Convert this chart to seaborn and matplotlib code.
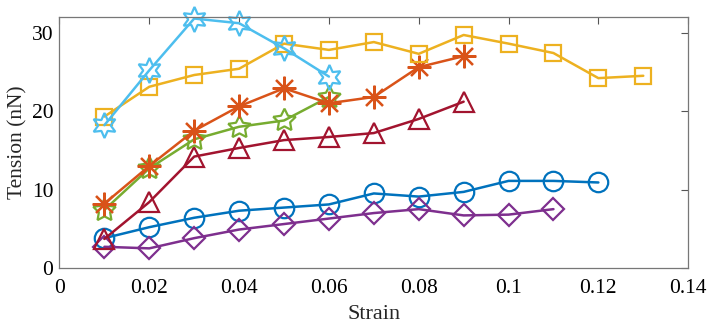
import matplotlib
matplotlib.use("Agg")
import matplotlib.pyplot as plt
import seaborn as sns
import pandas as pd

sns.set_style("white")
plt.rcParams['font.family'] = ['Liberation Serif', 'DejaVu Serif']
plt.rcParams['mathtext.fontset'] = 'stix'

strain = [0.01, 0.02, 0.03, 0.04, 0.05, 0.06, 0.07, 0.08, 0.09, 0.10, 0.11, 0.12, 0.13]

blue_circle = [3.8, 5.2, 6.4, 7.3, 7.7, 8.1, 9.5, 9.1, 9.7, 11.1, 11.1, 10.9]
orange_asterisk = [8.2, 13.0, 17.5, 20.6, 22.9, 21.0, 21.8, 25.6, 27.0]
yellow_square = [19.3, 23.1, 24.6, 25.4, 28.6, 27.8, 28.8, 27.3, 29.7, 28.6, 27.4, 24.2, 24.5]
purple_diamond = [2.7, 2.5, 3.8, 4.9, 5.6, 6.3, 7.0, 7.5, 6.7, 6.8, 7.5]
green_star = [7.4, 12.7, 16.4, 18.0, 18.8, 21.8]
cyan_hexagram = [18.2, 25.2, 31.8, 31.2, 28.0, 24.4]
red_triangle = [3.7, 8.4, 14.2, 15.3, 16.3, 16.7, 17.2, 19.0, 21.2]

series = [
    (blue_circle, "#0072BD", "o", 14),
    (purple_diamond, "#7E2F8E", "D", 11),
    (red_triangle, "#A2142F", "^", 14),
    (green_star, "#77AC30", (5, 1, 0), 17),
    (orange_asterisk, "#D95319", (8, 2, 0), 17),
    (yellow_square, "#EDB120", "s", 12),
    (cyan_hexagram, "#4DBEEE", (6, 1, 0), 18),
]

fig = plt.figure(figsize=(7.08, 3.26), dpi=100)
ax = fig.add_axes([0.084, 0.178, 0.888, 0.770])

for vals, color, marker, ms in series:
    df = pd.DataFrame({"x": strain[:len(vals)], "y": vals})
    sns.lineplot(data=df, x="x", y="y", ax=ax, color=color, marker=marker,
                 markersize=ms, markerfacecolor="none", markeredgecolor=color,
                 markeredgewidth=1.6, linewidth=1.8, clip_on=False)

ax.set_xlim(0, 0.14)
ax.set_ylim(0, 32)
ax.set_xticks([0, 0.02, 0.04, 0.06, 0.08, 0.1, 0.12, 0.14])
ax.set_xticklabels(["0", "0.02", "0.04", "0.06", "0.08", "0.1", "0.12", "0.14"])
ax.set_yticks([0, 10, 20, 30])
ax.set_xlabel("Strain", fontsize=16, labelpad=5)
ax.set_ylabel("Tension (nN)", fontsize=15.5, labelpad=3)
ax.tick_params(direction="in", length=5, width=0.8, colors="#555555",
               labelcolor="black", labelsize=15.5, top=True, right=True)
ax.tick_params(axis="x", pad=8)
ax.tick_params(axis="y", pad=4.5)
for s in ax.spines.values():
    s.set_visible(True)
    s.set_color("#777777")
    s.set_linewidth(0.9)

fig.savefig("out.png", dpi=100)
